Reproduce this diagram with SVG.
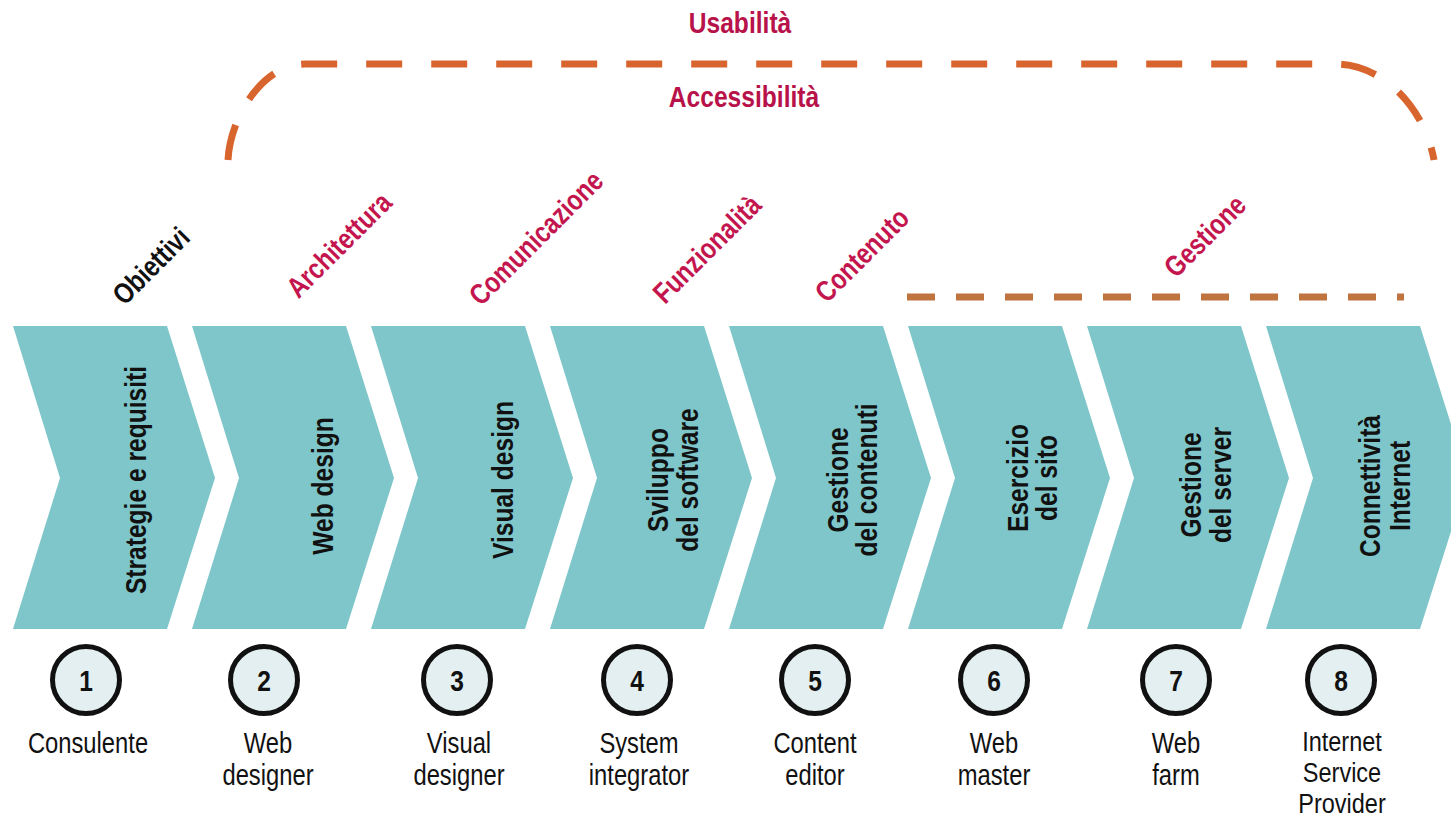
<svg xmlns="http://www.w3.org/2000/svg" width="1451" height="817" viewBox="0 0 1451 817">
<defs>
<style>
.chev{fill:#7ec6c9}
.ct{font-family:"Liberation Sans",Arial,sans-serif;font-weight:bold;font-size:30px;fill:#111;text-anchor:middle}
.diag{font-family:"Liberation Sans",Arial,sans-serif;font-weight:bold;font-size:29px;fill:#c4164e;text-anchor:middle}
.top{font-family:"Liberation Sans",Arial,sans-serif;font-weight:bold;font-size:30px;fill:#b8124a;text-anchor:middle}
.circ{fill:#e3eff1;stroke:#111;stroke-width:5}
.num{font-family:"Liberation Sans",Arial,sans-serif;font-weight:bold;font-size:30px;fill:#111;text-anchor:middle}
.lbl{font-family:"Liberation Sans",Arial,sans-serif;font-size:29px;fill:#111;text-anchor:middle}
.arc{fill:none;stroke:#d9652e;stroke-width:7;stroke-dasharray:36 29}
.ges{fill:none;stroke:#bf7440;stroke-width:7;stroke-dasharray:28 21}
</style>
</defs>
<rect width="1451" height="817" fill="#ffffff"/>

<g id="connectors">
<path class="arc" d="M228,160 C230,118 262,64 305,64 L1335,64 C1385,64 1425,110 1434,160"/>
<path class="ges" d="M907,297 L1404,297"/>
</g>

<g id="top-labels">
<text class="top" transform="translate(740,33) scale(0.82,1)">Usabilità</text>
<text class="top" transform="translate(744,107) scale(0.82,1)">Accessibilità</text>
</g>

<g id="phase-labels">
<text class="diag" style="fill:#111" transform="translate(158,273) rotate(-45) scale(0.82,1)">Obiettivi</text>
<text class="diag" transform="translate(346,252) rotate(-45) scale(0.82,1)">Architettura</text>
<text class="diag" transform="translate(543,245) rotate(-45) scale(0.82,1)">Comunicazione</text>
<text class="diag" transform="translate(714,256) rotate(-45) scale(0.82,1)">Funzionalità</text>
<text class="diag" transform="translate(869,262) rotate(-45) scale(0.82,1)">Contenuto</text>
<text class="diag" transform="translate(1212,243) rotate(-45) scale(0.82,1)">Gestione</text>
</g>

<g id="step1">
<polygon class="chev" points="13,326 167,326 215,478 167,629 13,629 60,478"/>
<text class="ct" transform="translate(146,480) rotate(-90) scale(0.82,1)">Strategie e requisiti</text>
<circle class="circ" cx="86" cy="680" r="33.5"/>
<text class="num" transform="translate(86,691) scale(0.82,1)">1</text>
<text class="lbl" transform="translate(88,753) scale(0.82,1)">Consulente</text>
</g>

<g id="step2">
<polygon class="chev" points="192,326 346,326 394,478 346,629 192,629 239,478"/>
<text class="ct" transform="translate(333,486) rotate(-90) scale(0.82,1)">Web design</text>
<circle class="circ" cx="264" cy="680" r="33.5"/>
<text class="num" transform="translate(264,691) scale(0.82,1)">2</text>
<text class="lbl" transform="translate(268,753) scale(0.82,1)"><tspan x="0" y="0">Web</tspan><tspan x="0" y="32">designer</tspan></text>
</g>

<g id="step3">
<polygon class="chev" points="371,326 525,326 573,478 525,629 371,629 418,478"/>
<text class="ct" transform="translate(513,480) rotate(-90) scale(0.82,1)">Visual design</text>
<circle class="circ" cx="457" cy="680" r="33.5"/>
<text class="num" transform="translate(457,691) scale(0.82,1)">3</text>
<text class="lbl" transform="translate(459,753) scale(0.82,1)"><tspan x="0" y="0">Visual</tspan><tspan x="0" y="32">designer</tspan></text>
</g>

<g id="step4">
<polygon class="chev" points="550,326 704,326 752,478 704,629 550,629 597,478"/>
<text class="ct" transform="translate(668,480) rotate(-90) scale(0.82,1)"><tspan x="0" y="0">Sviluppo</tspan><tspan x="0" y="30">del software</tspan></text>
<circle class="circ" cx="637" cy="680" r="33.5"/>
<text class="num" transform="translate(637,691) scale(0.82,1)">4</text>
<text class="lbl" transform="translate(639,753) scale(0.82,1)"><tspan x="0" y="0">System</tspan><tspan x="0" y="32">integrator</tspan></text>
</g>

<g id="step5">
<polygon class="chev" points="729,326 883,326 931,478 883,629 729,629 776,478"/>
<text class="ct" transform="translate(848,480) rotate(-90) scale(0.82,1)"><tspan x="0" y="0">Gestione</tspan><tspan x="0" y="29">del contenuti</tspan></text>
<circle class="circ" cx="815" cy="680" r="33.5"/>
<text class="num" transform="translate(815,691) scale(0.82,1)">5</text>
<text class="lbl" transform="translate(815,753) scale(0.82,1)"><tspan x="0" y="0">Content</tspan><tspan x="0" y="32">editor</tspan></text>
</g>

<g id="step6">
<polygon class="chev" points="908,326 1062,326 1110,478 1062,629 908,629 955,478"/>
<text class="ct" transform="translate(1028,478) rotate(-90) scale(0.82,1)"><tspan x="0" y="0">Esercizio</tspan><tspan x="0" y="29">del sito</tspan></text>
<circle class="circ" cx="994" cy="680" r="33.5"/>
<text class="num" transform="translate(994,691) scale(0.82,1)">6</text>
<text class="lbl" transform="translate(994,753) scale(0.82,1)"><tspan x="0" y="0">Web</tspan><tspan x="0" y="32">master</tspan></text>
</g>

<g id="step7">
<polygon class="chev" points="1087,326 1241,326 1289,478 1241,629 1087,629 1134,478"/>
<text class="ct" transform="translate(1201,485) rotate(-90) scale(0.82,1)"><tspan x="0" y="0">Gestione</tspan><tspan x="0" y="30">del server</tspan></text>
<circle class="circ" cx="1176" cy="680" r="33.5"/>
<text class="num" transform="translate(1176,691) scale(0.82,1)">7</text>
<text class="lbl" transform="translate(1176,753) scale(0.82,1)"><tspan x="0" y="0">Web</tspan><tspan x="0" y="32">farm</tspan></text>
</g>

<g id="step8">
<polygon class="chev" points="1266,326 1420,326 1468,478 1420,629 1266,629 1313,478"/>
<text class="ct" transform="translate(1380,486) rotate(-90) scale(0.82,1)"><tspan x="0" y="0">Connettività</tspan><tspan x="0" y="30">Internet</tspan></text>
<circle class="circ" cx="1341" cy="680" r="33.5"/>
<text class="num" transform="translate(1341,691) scale(0.82,1)">8</text>
<text class="lbl" style="font-size:27px" transform="translate(1342,751) scale(0.87,1)"><tspan x="0" y="0">Internet</tspan><tspan x="0" y="31">Service</tspan><tspan x="0" y="62">Provider</tspan></text>
</g>
</svg>
